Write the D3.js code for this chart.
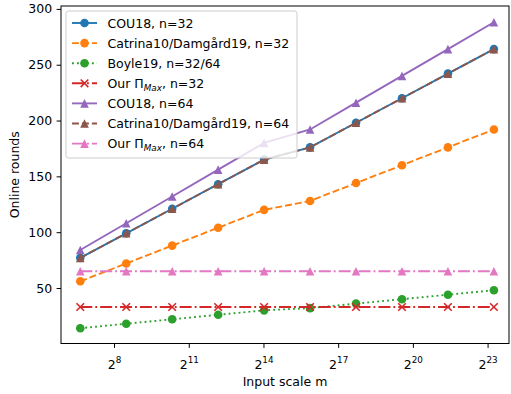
<!DOCTYPE html>
<html>
<head>
<meta charset="utf-8">
<script src="https://cdn.jsdelivr.net/npm/d3@7"></script>
<style>
  body { margin: 0; background: #fff; }
  svg { font-family: "DejaVu Sans", sans-serif; }
</style>
</head>
<body>
<script>
// input scale m (log-spaced, 10^2 .. 10^7)
const mValues = [100, 359.4, 1291.5, 4641.6, 16681, 59948, 215443, 774264, 2782559, 10000000];
const xTickExps = [8, 11, 14, 17, 20, 23];
const yTicks = [50, 100, 150, 200, 250, 300];

// online rounds per series
const cou18n32 = [77, 99, 121, 143, 165, 176, 198, 220, 242, 264];
const catrinaN32 = [56, 72, 88, 104, 120, 128, 144, 160, 176, 192];
const boyle19 = [14, 18, 22, 26, 30, 32, 36, 40, 44, 48];
const ourN32 = [33, 33, 33, 33, 33, 33, 33, 33, 33, 33];
const cou18n64 = [84, 108, 132, 156, 180, 192, 216, 240, 264, 288];
const catrinaN64 = [77, 99, 121, 143, 165, 176, 198, 220, 242, 264];
const ourN64 = [65, 65, 65, 65, 65, 65, 65, 65, 65, 65];

const w = 511, h = 394;
const lw = 1.875;
const dashes = {
  solid: null,
  dashed: `${3.7 * lw},${1.6 * lw}`,
  dotted: `${1 * lw},${1.65 * lw}`,
  dashdot: `${6.4 * lw},${1.6 * lw},${1 * lw},${1.6 * lw}`
};

const series = [
  { name: "COU18, n=32", values: cou18n32, color: "#1f77b4", dash: "solid", marker: "o" },
  { name: "Catrina10/Damgård19, n=32", values: catrinaN32, color: "#ff7f0e", dash: "dashed", marker: "o" },
  { name: "Boyle19, n=32/64", values: boyle19, color: "#2ca02c", dash: "dotted", marker: "o" },
  { name: "Our Π|Max|, n=32", values: ourN32, color: "#d62728", dash: "dashdot", marker: "x" },
  { name: "COU18, n=64", values: cou18n64, color: "#9467bd", dash: "solid", marker: "^" },
  { name: "Catrina10/Damgård19, n=64", values: catrinaN64, color: "#8c564b", dash: "dashed", marker: "^" },
  { name: "Our Π|Max|, n=64", values: ourN64, color: "#e377c2", dash: "dashdot", marker: "^" }
];

const plot = { left: 61, right: 509, top: 6, bottom: 343.5 };

const svg = d3.select("body").append("svg")
  .attr("width", w)
  .attr("height", h);

// scales
const xScale = d3.scaleLog().base(2)
  .domain([Math.pow(2, 5.87), Math.pow(2, 23.86)])
  .range([plot.left, plot.right]);
const yScale = d3.scaleLinear()
  .domain([0.3, 301.7])
  .range([plot.bottom, plot.top + 1]);

// draw one marker at (0,0) inside g
function drawMarker(g, type, color) {
  const r = 4.3;
  if (type === "o") {
    g.append("circle").attr("r", r).attr("fill", color);
  } else if (type === "^") {
    g.append("path")
      .attr("d", `M0,${-r}L${-r},${r}L${r},${r}Z`)
      .attr("fill", color);
  } else if (type === "x") {
    const q = 3.8;
    g.append("path")
      .attr("d", `M${-q},${-q}L${q},${q}M${-q},${q}L${q},${-q}`)
      .attr("stroke", color)
      .attr("stroke-width", 1.6)
      .attr("fill", "none");
  }
}

// lines + markers
const line = d3.line()
  .x((d, i) => xScale(mValues[i]))
  .y(d => yScale(d));

series.forEach(s => {
  svg.append("path")
    .datum(s.values)
    .attr("d", line)
    .attr("fill", "none")
    .attr("stroke", s.color)
    .attr("stroke-width", lw)
    .attr("stroke-dasharray", dashes[s.dash]);
  s.values.forEach((v, i) => {
    const g = svg.append("g")
      .attr("transform", `translate(${xScale(mValues[i])},${yScale(v)})`);
    drawMarker(g, s.marker, s.color);
  });
});

// axes
const xAxis = d3.axisBottom(xScale)
  .tickValues(xTickExps.map(e => Math.pow(2, e)))
  .tickSize(4.4)
  .tickPadding(4.4)
  .tickFormat("");
const xg = svg.append("g")
  .attr("transform", `translate(0,${plot.bottom})`)
  .call(xAxis);
xg.select(".domain").remove();
xg.selectAll(".tick line").attr("stroke", "#000").attr("stroke-width", 1);
xg.selectAll(".tick").each(function(d, i) {
  const t = d3.select(this).append("text")
    .attr("y", 25)
    .attr("fill", "#000")
    .attr("text-anchor", "middle")
    .style("font-size", "12.5px");
  t.append("tspan").text("2");
  t.append("tspan")
    .attr("dy", -5.5)
    .style("font-size", "8.8px")
    .text(xTickExps[i]);
});

const yAxis = d3.axisLeft(yScale)
  .tickValues(yTicks)
  .tickSize(4.4)
  .tickPadding(4.4);
const yg = svg.append("g")
  .attr("transform", `translate(${plot.left},0)`)
  .call(yAxis);
yg.select(".domain").remove();
yg.selectAll(".tick line").attr("stroke", "#000").attr("stroke-width", 1);
yg.selectAll(".tick text")
  .attr("fill", "#000")
  .style("font-size", "12.5px");
xg.attr("font-family", null);
yg.attr("font-family", null);

// frame
svg.append("rect")
  .attr("x", plot.left)
  .attr("y", plot.top)
  .attr("width", plot.right - plot.left)
  .attr("height", plot.bottom - plot.top)
  .attr("fill", "none")
  .attr("stroke", "#000")
  .attr("stroke-width", 1);

// axis titles
svg.append("text")
  .attr("x", (plot.left + plot.right) / 2)
  .attr("y", 386)
  .attr("text-anchor", "middle")
  .style("font-size", "12.5px")
  .text("Input scale m");

svg.append("text")
  .attr("transform", `translate(19,${(plot.top + plot.bottom) / 2}) rotate(-90)`)
  .attr("text-anchor", "middle")
  .style("font-size", "12.5px")
  .text("Online rounds");

// legend
const leg = { x: 66, y: 11, w: 231, h: 147, row: 20.1 };
svg.append("rect")
  .attr("x", leg.x)
  .attr("y", leg.y)
  .attr("width", leg.w)
  .attr("height", leg.h)
  .attr("rx", 2.5)
  .attr("fill", "#fff")
  .attr("fill-opacity", 0.8)
  .attr("stroke", "#ccc")
  .attr("stroke-width", 1);

series.forEach((s, i) => {
  const cy = leg.y + 12 + i * leg.row;
  const g = svg.append("g");
  g.append("line")
    .attr("x1", leg.x + 6)
    .attr("x2", leg.x + 31)
    .attr("y1", cy)
    .attr("y2", cy)
    .attr("stroke", s.color)
    .attr("stroke-width", lw)
    .attr("stroke-dasharray", dashes[s.dash]);
  const mg = g.append("g").attr("transform", `translate(${leg.x + 18.5},${cy})`);
  drawMarker(mg, s.marker, s.color);

  const t = g.append("text")
    .attr("x", leg.x + 41.5)
    .attr("y", cy + 4.5)
    .style("font-size", "12.5px");
  const parts = s.name.split("|");
  t.append("tspan").text(parts[0]);
  if (parts.length > 1) {
    t.append("tspan")
      .attr("dy", 3)
      .style("font-size", "8.8px")
      .style("font-style", "italic")
      .text(parts[1]);
    t.append("tspan")
      .attr("dy", -3)
      .text(parts[2]);
  }
});
</script>
</body>
</html>
